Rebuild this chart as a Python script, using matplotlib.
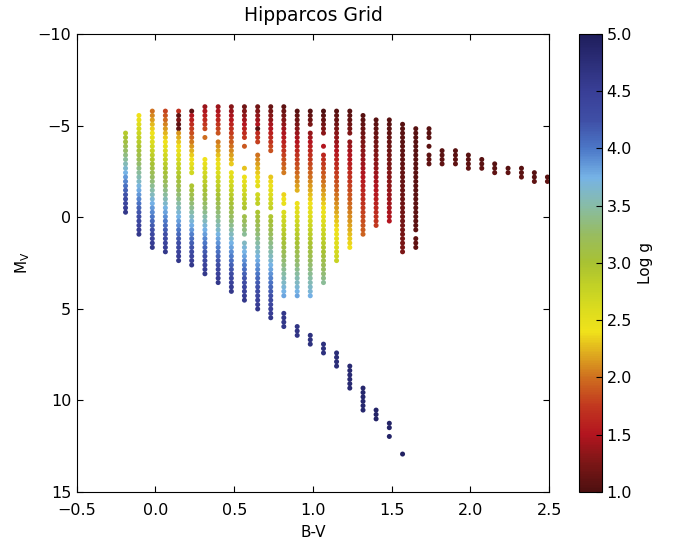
import numpy as np
import matplotlib
matplotlib.use("Agg")
import matplotlib.pyplot as plt
from matplotlib.colors import LinearSegmentedColormap, Normalize

# B-V of each grid column
bv = [-0.19, -0.105, -0.02, 0.063, 0.147, 0.23, 0.314, 0.398, 0.482, 0.565,
      0.649, 0.732, 0.815, 0.90, 0.983, 1.067, 1.15, 1.234, 1.318, 1.401,
      1.485, 1.569, 1.653, 1.737, 1.82, 1.905, 1.987, 2.072, 2.154, 2.239,
      2.324, 2.406, 2.489]

# filled Mv ranges (top, bottom) in each column
segments = [
    [(-4.59, -0.27)],
    [(-5.55, 0.93)],
    [(-5.79, 1.65)],
    [(-5.79, 1.89)],
    [(-5.79, 2.37)],
    [(-5.79, -2.43), (-1.71, 2.61)],
    [(-6.03, -4.83), (-4.35, -4.35), (-3.15, 3.09)],
    [(-6.03, -4.59), (-4.11, 3.57)],
    [(-6.03, -2.91), (-2.43, 4.05)],
    [(-6.03, -4.35), (-3.87, -3.87), (-2.67, -2.67), (-2.19, -0.51), (-0.03, 0.93), (1.41, 4.53)],
    [(-6.03, -4.11), (-3.39, -1.71), (-1.23, -0.75), (-0.27, 5.01)],
    [(-6.03, -3.63), (-2.19, -0.51), (-0.03, 5.49)],
    [(-6.03, -2.43), (-1.23, -0.75), (-0.27, 4.29)],
    [(-5.79, -1.47), (-0.75, 4.29)],
    [(-5.79, -5.07), (-4.59, 4.29)],
    [(-5.79, -4.59), (-3.87, -3.87), (-3.39, 3.57)],
    [(-5.79, 2.37)],
    [(-5.79, -4.59), (-4.11, 1.65)],
    [(-5.55, 0.93)],
    [(-5.31, 0.45)],
    [(-5.31, 0.21)],
    [(-5.07, 1.89)],
    [(-4.83, 0.69), (1.17, 1.65)],
    [(-4.83, -4.35), (-3.87, -3.87), (-3.39, -2.91)],
    [(-3.63, -2.91)],
    [(-3.63, -2.91)],
    [(-3.39, -2.67)],
    [(-3.15, -2.67)],
    [(-2.91, -2.43)],
    [(-2.67, -2.43)],
    [(-2.67, -2.19)],
    [(-2.43, -1.95)],
    [(-2.19, -1.95)],
]

# log g at top and bottom of each column
logg_top = [2.9, 2.4, 2.0, 1.8, 1.7, 1.4, 1.4, 1.4, 1.3, 1.2, 1.2, 1.15, 1.1,
            1.05, 1.05, 1.0, 1.05, 1.05, 1.05, 1.05, 1.05, 1.05, 1.05, 1.05,
            1.05, 1.05, 1.05, 1.05, 1.05, 1.05, 1.05, 1.05, 1.05]
logg_bot = [4.6, 4.6, 4.6, 4.6, 4.6, 4.6, 4.6, 4.6, 4.6, 4.6, 4.6, 4.6, 3.8,
            3.8, 3.75, 3.45, 2.75, 2.4, 1.95, 1.75, 1.5, 1.25, 1.1, 1.1,
            1.1, 1.1, 1.1, 1.1, 1.1, 1.1, 1.1, 1.1, 1.1]

# lower main sequence
ms_bv = [0.815, 0.90, 0.983, 1.067, 1.15, 1.234, 1.318, 1.401, 1.485, 1.569]
ms_segments = [[(5.25, 5.97)], [(5.97, 6.45)], [(6.45, 6.93)], [(6.93, 7.41)],
               [(7.41, 8.13)], [(8.13, 9.33)], [(9.33, 10.53)], [(10.53, 11.01)],
               [(11.25, 11.49), (11.97, 11.97)], [(12.93, 12.93)]]
ms_logg = [4.6, 4.65, 4.7, 4.7, 4.75, 4.8, 4.85, 4.9, 4.9, 4.95]

# odd low-gravity points
odd_bv = [0.147, 0.147, 0.147, 0.147, 0.23, 0.649]
odd_mv = [-5.55, -5.31, -5.07, -4.83, -5.79, -4.83]
odd_logg = [1.1, 1.25, 1.1, 1.1, 1.1, 1.05]

# Mv levels of the grid
mv_grid = np.round(-6.03 + 0.24 * np.arange(80), 2)

cmap_vals = [1.0, 1.25, 1.5, 1.75, 2.0, 2.2, 2.4, 2.6, 2.8, 3.0, 3.25, 3.5, 3.75, 4.0, 4.25, 4.5, 5.0]
cmap_cols = ['#4e1010', '#7c1616', '#b3151f', '#c2381f', '#cf701f', '#deaa1f', '#f0e21b',
             '#dbdc1e', '#c2d126', '#a9c232', '#98bc60', '#88bca6', '#76b3e6', '#4c78c8',
             '#3f4fa6', '#393f97', '#1f1e5c']
cmap = LinearSegmentedColormap.from_list(
    'grid', [((v - 1.0) / 4.0, c) for v, c in zip(cmap_vals, cmap_cols)])

xs, ys, cs = [], [], []
for b, segs, lt, lb in zip(bv, segments, logg_top, logg_bot):
    top, bot = segs[0][0], segs[-1][1]
    for s0, s1 in segs:
        lev = mv_grid[(mv_grid >= s0 - 0.05) & (mv_grid <= s1 + 0.05)]
        xs += [b] * len(lev)
        ys += list(lev)
        if bot > top:
            cs += list(np.interp(lev, [top, bot], [lt, lb]))
        else:
            cs += [lt] * len(lev)
for b, segs, g in zip(ms_bv, ms_segments, ms_logg):
    for s0, s1 in segs:
        lev = mv_grid[(mv_grid >= s0 - 0.05) & (mv_grid <= s1 + 0.05)]
        xs += [b] * len(lev)
        ys += list(lev)
        cs += [g] * len(lev)
xs, ys, cs = np.array(xs), np.array(ys), np.array(cs)
for b, m, g in zip(odd_bv, odd_mv, odd_logg):
    cs[(np.abs(xs - b) < 1e-6) & (np.abs(ys - m) < 0.01)] = g


def fmt(vals):
    return [('%.1f' % v).replace('-', '\u2212') for v in vals]


plt.rcParams['font.family'] = 'DejaVu Sans'
plt.rcParams['xtick.direction'] = 'in'
plt.rcParams['ytick.direction'] = 'in'
plt.rcParams['xtick.top'] = True
plt.rcParams['ytick.right'] = True

fig = plt.figure(figsize=(6.73, 5.42), dpi=100)
ax = fig.add_axes([0.114, 0.0923, 0.702, 0.845])
cax = fig.add_axes([0.860, 0.0923, 0.034, 0.845])

sc = ax.scatter(xs, ys, c=cs, cmap=cmap, norm=Normalize(1.0, 5.0), s=13, linewidths=0)
xt = np.arange(-0.5, 2.51, 0.5)
ax.set_xlim(-0.5, 2.5)
ax.set_ylim(15, -10)
ax.set_xticks(xt)
ax.set_xticklabels(fmt(xt))
ax.set_yticks([-10, -5, 0, 5, 10, 15])
ax.tick_params(length=4, width=0.8, labelsize=11.5, pad=4)
ax.tick_params(axis='x', pad=8)
ax.set_xlabel('B-V', fontsize=11, labelpad=5)
ax.set_ylabel(r'M$_\mathrm{V}$', fontsize=11)
ax.set_title('Hipparcos Grid', fontsize=13.5, pad=9)

cb = fig.colorbar(sc, cax=cax)
ct = np.arange(1.0, 5.01, 0.5)
cb.set_ticks(ct)
cb.set_ticklabels(fmt(ct))
cb.ax.tick_params(direction='in', length=4, width=0.8, labelsize=11.5)
cb.set_label('Log g', fontsize=11)

fig.savefig('out.png', dpi=100)
